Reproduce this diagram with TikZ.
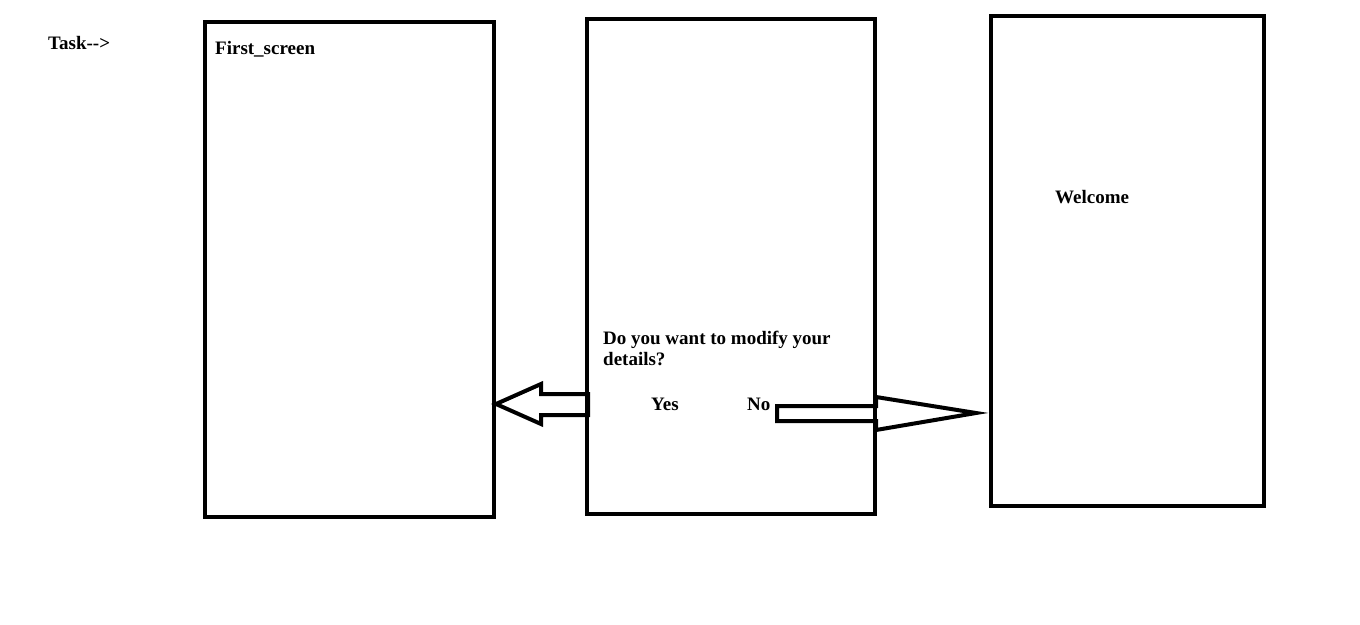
\documentclass[tikz,border=0pt]{standalone}
\usepackage{fontspec}
\setmainfont{Liberation Serif}
\usetikzlibrary{calc}
\tikzset{
	screen/.style={draw,line width=4pt,inner sep=0pt},
	label/.style={anchor=west,inner sep=0pt,font=\fontsize{19}{21}\selectfont\bfseries,align=flush left},
	blockarrow/.style={draw,line width=4pt,line join=miter}
}
\begin{document}
\begin{tikzpicture}[x=1pt,y=-1pt]
			\useasboundingbox (0,0) rectangle (1360,624);
			% the three screens
			\node[screen,minimum width=289pt,minimum height=495pt] (first) at (349.5,269.5) {};
			\node[screen,minimum width=288pt,minimum height=495pt] (second) at (731,266.5) {};
			\node[screen,minimum width=273pt,minimum height=490pt] (third) at (1127.5,261) {};
			% texts
			\node[label] (task) at (48,43) {Task-{}->};
			\node[label] (firsttitle) at (215,49) {First\_screen};
			\node[label] (welcome) at (1055,197) {Welcome};
			\node[label,text width=250pt] (question) at (603,348.5) {Do you want to modify your\\details?};
			\node[label] (yes) at (651,404) {Yes};
			\node[label] (no) at (747,404) {No};
			% yes: back to first screen
			\draw[blockarrow,shift={(first.east |- 0,404)}] (0,0) -- (45,-20) -- (45,-10)%
			-- (92,-10) -- (92,11) -- (45,11) -- (45,20) -- cycle;
			% no: on to welcome
			\draw[blockarrow,shift={($(third.west |- 0,413)+(-13,0)$)}] (-199,-7) -- (-100,-7)%
			-- (-100,-16) -- (0,0) -- (-100,17) -- (-100,8) -- (-199,8) -- cycle;
	\end{tikzpicture}
\end{document}
